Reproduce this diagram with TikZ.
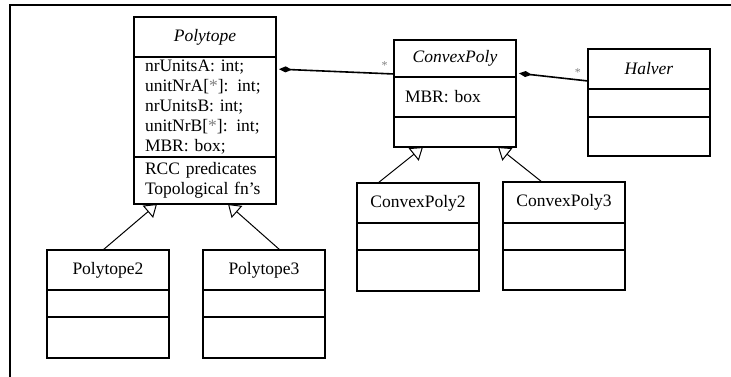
\documentclass[tikz,border=0pt]{standalone}
\usepackage{fontspec}
\setmainfont{Liberation Serif}
\usepackage{tikz}
\usetikzlibrary{arrows.meta,positioning}

\newcommand{\umlfont}{\fontsize{17.5}{20}\selectfont}

\begin{document}
\begin{tikzpicture}[
    x=1pt, y=-1pt,
    cls/.style={rectangle, draw, line width=1.25pt, outer sep=0pt, inner xsep=11pt, inner ysep=0pt, font=\umlfont},
    head/.style={cls, minimum width=122pt, minimum height=40pt},
    part/.style={cls, text width=100pt, align=left},
    inherit/.style={-{Triangle[open, length=12pt, width=16pt]}, line width=1pt},
    compose/.style={{Diamond[length=13pt, width=6pt]}-, line width=1.6pt, shorten <=3pt},
    mult/.style={font=\fontsize{12}{12}\selectfont, text=gray, inner sep=1pt},
    frame/.style={line width=1.6pt}
]
\useasboundingbox (0,0) rectangle (731,377);

% Frame
\draw[frame] (10,377) -- (10,5) -- (731,5);

% Polytope
\node[head, minimum width=142pt, anchor=north west] (polytope) at (134,17) {\textit{Polytope}};
\node[part, text width=120pt, minimum height=100pt, below=0pt of polytope] (polyattr) {nrUnitsA: int;\\ unitNrA[\textcolor{gray}{*}]: int;\\ nrUnitsB: int;\\ unitNrB[\textcolor{gray}{*}]: int;\\ MBR: box;};
\node[part, text width=120pt, minimum height=47pt, below=0pt of polyattr] (polymeth) {RCC predicates\\ Topological fn's};
\draw[line width=2pt] (polymeth.north west) -- (polymeth.north east);

% Subclasses of Polytope
\node[head, anchor=north west] (poly2) at (47,250) {Polytope2};
\node[part, minimum height=27pt, below=0pt of poly2] (poly2attr) {};
\node[part, minimum height=41pt, below=0pt of poly2attr] (poly2meth) {};

\node[head, anchor=north west] (poly3) at (203,250) {Polytope3};
\node[part, minimum height=27pt, below=0pt of poly3] (poly3attr) {};
\node[part, minimum height=41pt, below=0pt of poly3attr] (poly3meth) {};

% ConvexPoly
\node[head, minimum height=37pt, anchor=north west] (cvx) at (394,40) {\textit{ConvexPoly}};
\node[part, minimum height=40pt, below=0pt of cvx] (cvxattr) {MBR: box};
\node[part, minimum height=30pt, below=0pt of cvxattr] (cvxmeth) {};

% Halver
\node[head, anchor=north west] (halver) at (588,49) {\textit{Halver}};
\node[part, minimum height=28pt, below=0pt of halver] (halverattr) {};
\node[part, minimum height=39pt, below=0pt of halverattr] (halvermeth) {};

% Subclasses of ConvexPoly
\node[head, anchor=north west] (cvx2) at (357,183) {ConvexPoly2};
\node[part, minimum height=27pt, below=0pt of cvx2] (cvx2attr) {};
\node[part, minimum height=41pt, below=0pt of cvx2attr] (cvx2meth) {};

\node[head, minimum height=41pt, anchor=north west] (cvx3) at (503,182) {ConvexPoly3};
\node[part, minimum height=27pt, below=0pt of cvx3] (cvx3attr) {};
\node[part, minimum height=40pt, below=0pt of cvx3attr] (cvx3meth) {};

% Generalization
\draw[inherit] ([xshift=-5pt]poly2.north) -- ([xshift=-48pt]polymeth.south);
\draw[inherit] ([xshift=16pt]poly3.north) -- ([xshift=23pt]polymeth.south);
\draw[inherit] ([xshift=-40pt]cvx2.north) -- ([xshift=-32pt]cvxmeth.south);
\draw[inherit] ([xshift=-22pt]cvx3.north) -- ([xshift=43pt]cvxmeth.south);

% Composition
\draw[compose] ([yshift=-12pt]polyattr.north east) -- node[pos=0.92, above=2pt, mult] {*} ([yshift=3pt]cvx.south west);
\draw[compose] ([yshift=4pt]cvx.south east) -- node[pos=0.86, above=2pt, mult] {*} ([yshift=8pt]halver.south west);

\end{tikzpicture}
\end{document}
